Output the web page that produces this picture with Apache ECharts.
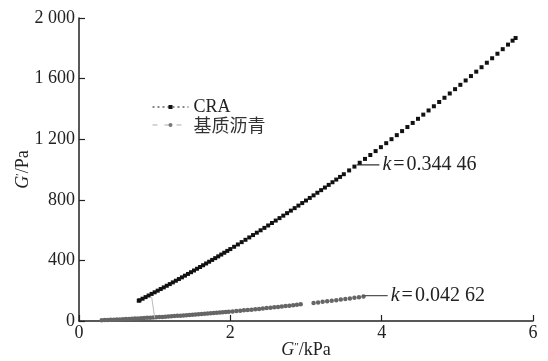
<!DOCTYPE html>
<html><head><meta charset="utf-8">
<script src="https://cdn.jsdelivr.net/npm/echarts@6/dist/echarts.min.js"></script>
<style>html,body{margin:0;padding:0;background:#fff}#c{width:548px;height:361px}</style>
</head><body><div id="c"></div>
<script>
const seriesNames = ['CRA', '基质沥青'];
const xTicks = [0, 2, 4, 6];
const yTicks = [0, 400, 800, 1200, 1600, 2000];
const kLabels = ['0.344 46', '0.042 62'];

// CRA: G'' (kPa), G' (Pa)
const craX = [0.79,0.80,0.84,0.88,0.92,0.96,1.00,1.04,1.08,1.12,1.16,1.20,1.24,1.28,1.32,1.36,1.40,1.44,1.48,1.52,1.56,1.60,1.64,1.68,1.72,1.76,1.80,1.84,1.88,1.92,1.96,2.00,
  2.05,2.10,2.15,2.20,2.25,2.30,2.35,2.40,2.45,2.50,2.55,2.60,2.65,2.70,2.75,2.80,2.85,2.90,2.95,3.00,3.05,3.10,3.15,3.20,3.25,3.30,3.35,3.40,3.45,3.50,
  3.57,3.64,3.71,3.78,3.85,3.92,3.99,4.06,4.13,4.20,4.27,4.34,4.41,4.48,4.55,4.62,4.69,4.76,4.83,4.90,4.97,5.04,5.11,5.18,5.25,5.32,5.39,5.46,5.53,5.60,5.67,5.73,5.77];
const craY = [134,136.6,147.1,157.6,168.2,178.8,189.5,200.2,211.0,221.8,232.7,243.7,254.7,265.8,276.9,288.1,299.3,310.6,322.0,333.4,344.9,356.4,368.0,379.6,391.3,403.1,414.9,426.7,438.6,450.6,462.7,474.7,
  489.9,505.2,520.6,536.0,551.6,567.2,582.9,598.7,614.6,630.6,646.7,662.9,679.1,695.5,711.9,728.4,745.0,761.7,778.5,795.3,812.3,829.3,846.5,863.7,881.0,898.4,915.9,933.5,951.1,968.9,
  993.9,1019.1,1044.4,1069.9,1095.6,1121.5,1147.5,1173.7,1200.1,1226.7,1253.4,1280.3,1307.4,1334.6,1362.1,1389.7,1417.4,1445.4,1473.5,1501.8,1530.3,1558.9,1587.7,1616.7,1645.8,1675.2,1704.7,1734.3,1764.2,1794.2,1824.4,1850.4,1867.8];

// 基质沥青
const baseX = [0.30,0.34,0.38,0.42,0.46,0.50,0.54,0.58,0.62,0.66,0.70,0.74,0.78,0.82,0.86,0.90,0.94,0.98,1.02,1.06,1.10,1.14,1.18,1.22,1.26,1.30,1.34,1.38,1.42,1.46,1.50,1.54,1.58,1.62,1.66,1.70,1.74,1.78,1.82,1.86,1.90,1.94,1.98,
  2.03,2.08,2.13,2.18,2.23,2.28,2.33,2.38,2.43,2.48,2.53,2.58,2.63,2.68,2.73,2.78,2.83,2.88,2.93,
  3.10,3.16,3.22,3.28,3.34,3.40,3.46,3.52,3.58,3.64,3.70,3.76];
const baseY = [5.0,5.9,6.8,7.8,8.7,9.7,10.7,11.7,12.8,13.9,15.0,16.1,17.2,18.4,19.5,20.7,22.0,23.2,24.5,25.7,27.0,28.4,29.7,31.1,32.5,33.9,35.3,36.8,38.2,39.7,41.3,42.8,44.3,45.9,47.5,49.1,50.8,52.5,54.1,55.8,57.6,59.3,61.1,
  63.3,65.6,67.9,70.3,72.6,75.0,77.5,80.0,82.5,85.0,87.6,90.2,92.8,95.5,98.2,100.9,103.7,106.5,110.5,
  119.3,122.8,126.5,130.1,133.9,137.6,141.5,145.3,149.3,153.2,157.2,161.3];

// leader lines for slope labels
const craLeaderX = [3.67, 3.97];
const craLeaderY = [1030, 1030];
const baseLeaderX = [3.74, 4.08];
const baseLeaderY = [167, 167];
// faint pointer line
const pointerX = [0.96, 1.00];
const pointerY = [160, 22];

const zip = (a, b) => a.map((v, i) => [v, b[i]]);
const serif = '"Liberation Serif", "Times New Roman", serif';

const chart = echarts.init(document.getElementById('c'), null, {renderer: 'canvas'});
const kLabel = (t) => ({
  show: true, distance: 3,
  formatter: '{k|k}{e|=}{t|' + t + '}',
  rich: {
    k: {fontFamily: serif, fontStyle: 'italic', fontSize: 20, color: '#222'},
    e: {fontFamily: serif, fontSize: 20, color: '#222', padding: [0, 2, 0, 2]},
    t: {fontFamily: serif, fontSize: 20, color: '#222'}
  }
});
chart.setOption({
  animation: false,
  backgroundColor: '#fff',
  grid: {left: 79, right: 15, top: 18, bottom: 40, outerBoundsMode: 'none', containLabel: false},
  legend: {
    orient: 'vertical', left: 147, top: 93, itemWidth: 36, itemHeight: 5, itemGap: 0,
    data: [
      {name: seriesNames[0], lineStyle: {type: [2, 3], width: 1, color: '#111', opacity: 1}, itemStyle: {color: '#111'}},
      {name: seriesNames[1], lineStyle: {type: [5, 7], width: 1, color: '#aaa', opacity: 1}, itemStyle: {color: '#777'}}
    ],
    formatter: (n) => n === 'CRA' ? '{a|' + n + '}' : '{c|' + n + '}',
    textStyle: {rich: {
      a: {fontFamily: serif, fontSize: 18, color: '#222', lineHeight: 20},
      c: {fontFamily: '"Noto Sans CJK SC", sans-serif', fontSize: 18, color: '#333', lineHeight: 20}
    }}
  },
  xAxis: {
    type: 'value', min: xTicks[0], max: xTicks[xTicks.length - 1], interval: 2,
    name: '{g|G}{p|″}{t|/kPa}', nameLocation: 'middle', nameGap: 20, nameMoveOverlap: false,
    nameTextStyle: {rich: {
      g: {fontFamily: serif, fontStyle: 'italic', fontSize: 18, color: '#222'},
      p: {fontFamily: serif, fontSize: 11, color: '#222', padding: [0, 0, 6, 0]},
      t: {fontFamily: serif, fontSize: 18, color: '#222'}
    }},
    axisLine: {lineStyle: {color: '#222', width: 1.5}},
    axisTick: {inside: true, length: 6, lineStyle: {color: '#222', width: 1.2}},
    axisLabel: {fontFamily: serif, fontSize: 18, color: '#222', margin: 3},
    splitLine: {show: false}
  },
  yAxis: {
    type: 'value', min: yTicks[0], max: yTicks[yTicks.length - 1], interval: 400,
    name: '{g|G}{p|′}{t|/Pa}', nameLocation: 'middle', nameGap: 47, nameRotate: 90, nameMoveOverlap: false,
    nameTextStyle: {rich: {
      g: {fontFamily: serif, fontStyle: 'italic', fontSize: 18, color: '#222'},
      p: {fontFamily: serif, fontSize: 11, color: '#222', padding: [0, 0, 6, 0]},
      t: {fontFamily: serif, fontSize: 18, color: '#222'}
    }},
    axisLine: {show: true, lineStyle: {color: '#222', width: 1.5}},
    axisTick: {show: true, inside: true, length: 6, lineStyle: {color: '#222', width: 1.2}},
    axisLabel: {fontFamily: serif, fontSize: 18, color: '#222', margin: 4,
      formatter: (v) => v >= 1000 ? String(v).replace(/^(\d)(\d{3})$/, '$1 $2') : String(v)},
    splitLine: {show: false}
  },
  series: [
    {name: seriesNames[0], type: 'line', data: zip(craX, craY), symbol: 'rect', symbolSize: 4,
      itemStyle: {color: '#111'}, lineStyle: {width: 0, opacity: 0}, z: 3},
    {name: seriesNames[1], type: 'line', data: zip(baseX, baseY), symbol: 'circle', symbolSize: 4.5,
      itemStyle: {color: '#666'}, lineStyle: {width: 0, opacity: 0}, z: 2},
    {name: 'k1', type: 'line', data: zip(craLeaderX, craLeaderY), symbol: 'none', silent: true,
      lineStyle: {color: '#333', width: 1.2}, endLabel: kLabel(kLabels[0])},
    {name: 'k2', type: 'line', data: zip(baseLeaderX, baseLeaderY), symbol: 'none', silent: true,
      lineStyle: {color: '#555', width: 1.2}, endLabel: kLabel(kLabels[1])},
    {name: 'ptr', type: 'line', data: zip(pointerX, pointerY), symbol: 'none', silent: true,
      lineStyle: {color: '#bbb', width: 1}}
  ]
});
</script>
</body></html>
